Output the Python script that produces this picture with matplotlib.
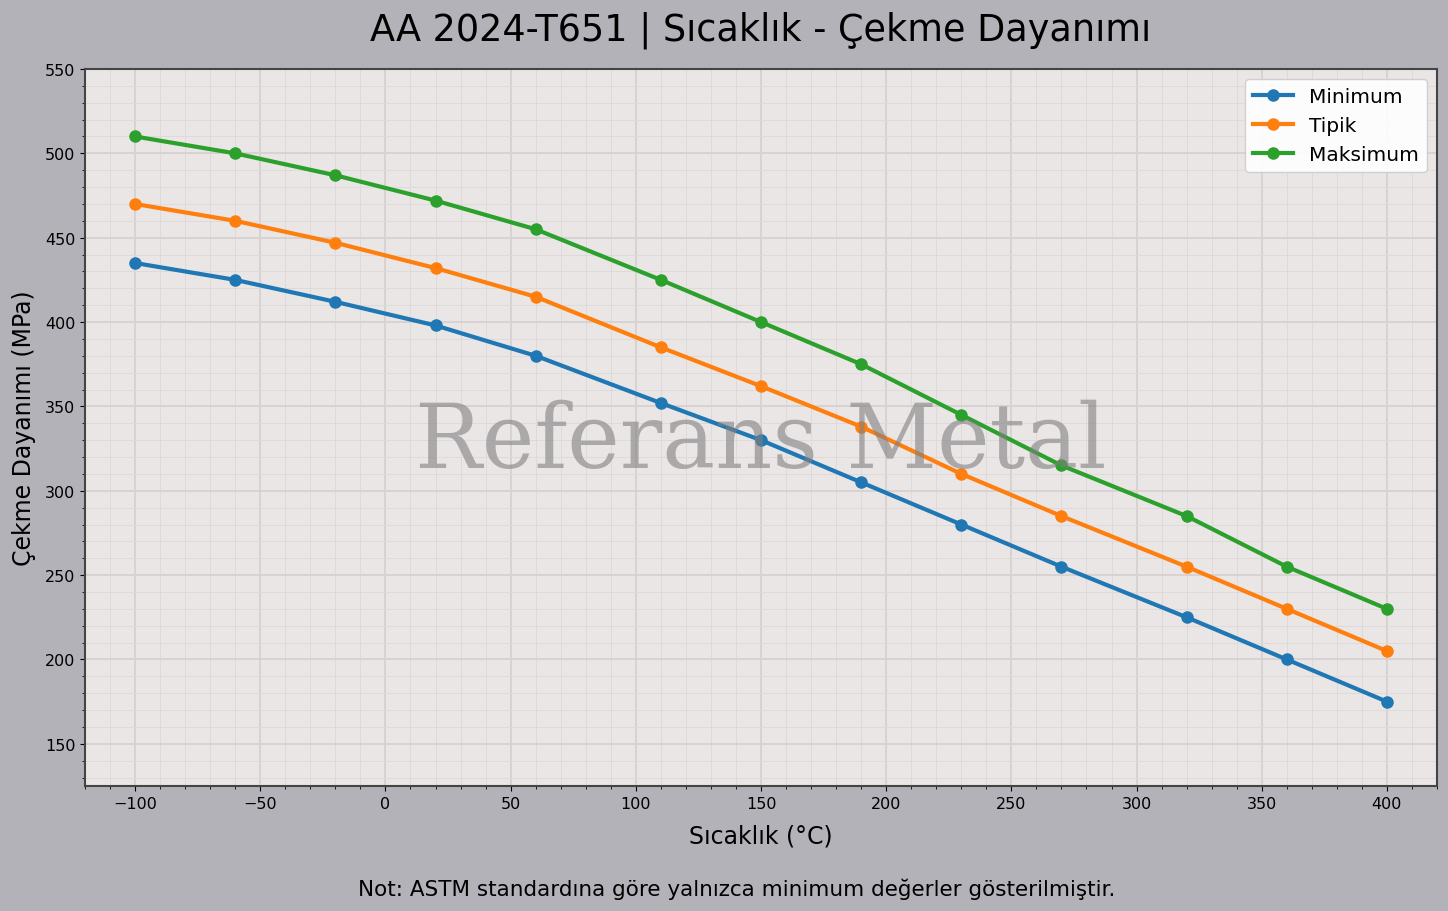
import matplotlib
matplotlib.use('Agg')
import matplotlib.pyplot as plt
from matplotlib.ticker import MultipleLocator

temps = [-100, -60, -20, 20, 60, 110, 150, 190, 230, 270, 320, 360, 400]
minimum = [435, 425, 412, 398, 380, 352, 330, 305, 280, 255, 225, 200, 175]
tipik = [470, 460, 447, 432, 415, 385, 362, 338, 310, 285, 255, 230, 205]
maksimum = [510, 500, 487, 472, 455, 425, 400, 375, 345, 315, 285, 255, 230]

fig = plt.figure(figsize=(14.48, 9.12), dpi=100, facecolor='#b3b2b8')
ax = fig.add_axes([85 / 1448, 1 - 787 / 912, 1352 / 1448, 717 / 912])
ax.set_facecolor('#eae6e5')

ax.plot(temps, minimum, '-o', color='#1f77b4', lw=3, ms=8, label='Minimum')
ax.plot(temps, tipik, '-o', color='#ff7f0e', lw=3, ms=8, label='Tipik')
ax.plot(temps, maksimum, '-o', color='#2ca02c', lw=3, ms=8, label='Maksimum')

ax.set_xlim(-120, 420)
ax.set_ylim(125, 550)
ax.xaxis.set_major_locator(MultipleLocator(50))
ax.xaxis.set_minor_locator(MultipleLocator(10))
ax.yaxis.set_minor_locator(MultipleLocator(10))
ax.grid(True, which='major', color='#d7d2d1', lw=1.3)
ax.grid(True, which='minor', color='#dfdada', lw=0.7)
ax.set_axisbelow(True)
for s in ax.spines.values():
    s.set_color('#444444')
    s.set_linewidth(1.5)
ax.tick_params(labelsize=11.5)

ax.set_xlabel('Sıcaklık (°C)', fontsize=17, labelpad=9)
ax.set_ylabel('Çekme Dayanımı (MPa)', fontsize=17, labelpad=6)
ax.legend(loc='upper right', fontsize=14.5, framealpha=0.9)

ax.text(0.5, 0.48, 'Referans Metal', transform=ax.transAxes, ha='center', va='center',
        fontsize=64, family='DejaVu Serif', color='gray', alpha=0.6, zorder=10)

fig.text(0.525, 0.967, 'AA 2024-T651 | Sıcaklık - Çekme Dayanımı', fontsize=26.4,
         ha='center', va='center')
fig.text(0.509, 0.025, 'Not: ASTM standardına göre yalnızca minimum değerler gösterilmiştir.',
         ha='center', va='center', fontsize=15.5)

fig.savefig('out.png', dpi=100, facecolor=fig.get_facecolor())
